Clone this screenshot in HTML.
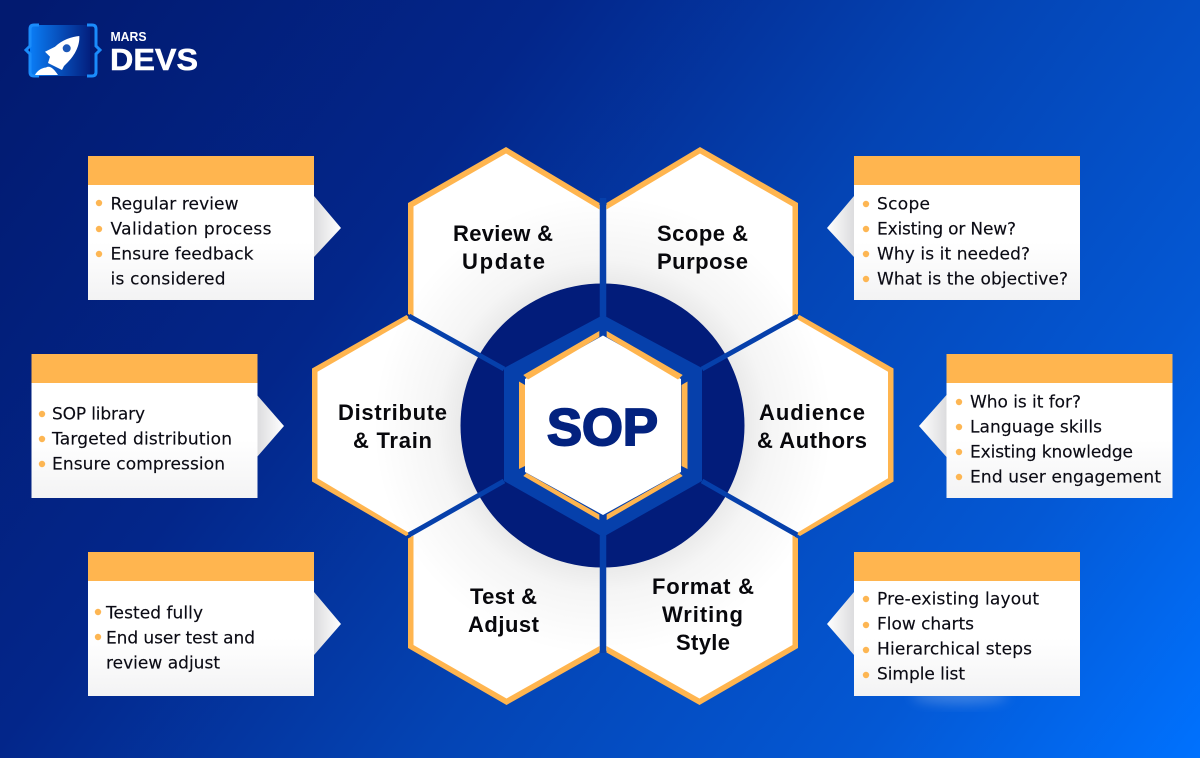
<!DOCTYPE html>
<html><head><meta charset="utf-8"><style>
html,body{margin:0;padding:0;width:1200px;height:758px;overflow:hidden;background:#0448b8}
svg{display:block}
.t{font-family:"DejaVu Sans","Liberation Sans",sans-serif;font-size:17px;fill:#0b0b14;stroke:#0b0b14;stroke-width:.15px}
.h{font-family:"Liberation Sans",sans-serif;font-weight:700;font-size:22px;fill:#08080c}
</style></head><body>
<svg width="1200" height="758" viewBox="0 0 1200 758" xmlns="http://www.w3.org/2000/svg">
<defs>
<linearGradient id="bg" gradientUnits="userSpaceOnUse" x1="60" y1="-40" x2="1180" y2="790">
<stop offset="0" stop-color="#021a70"/><stop offset=".3" stop-color="#03268a"/><stop offset=".55" stop-color="#0444b4"/><stop offset=".8" stop-color="#0458d4"/><stop offset="1" stop-color="#0072ff"/>
</linearGradient>
<linearGradient id="card" x1="0" y1="0" x2="0" y2="1"><stop offset=".6" stop-color="#fff"/><stop offset="1" stop-color="#f3f3f4"/></linearGradient>
<linearGradient id="ar" x1="0" y1="0" x2="1" y2="0"><stop offset="0" stop-color="#dcdcde"/><stop offset="1" stop-color="#fff"/></linearGradient>
<linearGradient id="al" x1="1" y1="0" x2="0" y2="0"><stop offset="0" stop-color="#dcdcde"/><stop offset="1" stop-color="#fff"/></linearGradient>
<linearGradient id="logo" x1="0" y1="0" x2="1" y2="0"><stop offset="0" stop-color="#0a7df6"/><stop offset="1" stop-color="#03207f"/></linearGradient>
<radialGradient id="sh" gradientUnits="userSpaceOnUse" cx="602.5" cy="425.5" r="230"><stop offset=".6" stop-color="#000" stop-opacity=".09"/><stop offset=".72" stop-color="#000" stop-opacity=".04"/><stop offset="1" stop-color="#000" stop-opacity="0"/></radialGradient>
<filter id="b" x="-50%" y="-50%" width="200%" height="200%"><feGaussianBlur stdDeviation="6"/></filter>
<clipPath id="hexes"><polygon points="603,207 700,150 795,205 795,316 700,371 603,316"/><polygon points="603,207 506,150 411,205 411,316 506,371 603,316"/><polygon points="315,370 407,318 503,369 503,482 407,533 315,480"/><polygon points="891,370 799,318 703,369 703,482 799,533 891,480"/><polygon points="411,536 506,480 603,536 603,649 506.5,702 411,646"/><polygon points="795,536 700,480 603,536 603,649 699.5,702 795,646"/></clipPath>
</defs>
<rect width="1200" height="758" fill="url(#bg)"/>

<!-- logo -->
<rect x="30" y="25" width="60" height="51" rx="4" fill="url(#logo)"/>
<path d="M39,25h-5q-4,0-4,4v17l-4,4 4,4v18q0,4,4,4h5" fill="none" stroke="#1a8cfb" stroke-width="3"/>
<path d="M87,25h5q4,0,4,4v17l4,4-4,4v18q0,4-4,4h-5" fill="none" stroke="#1a8cfb" stroke-width="3"/>
<path d="M79.300,36C72,36.500 62,40 55,46.700L45,51.700 50,56.700 48,63 62,70 64,66 68,62C75,55 80,45 79.300,36Z" fill="#fff"/>
<circle cx="66.700" cy="48.300" r="4" fill="#1b57b8"/>
<path d="M35,75C37,71 41,68 46,67.500C50,65 54,69 58,75Z" fill="#fff"/>
<text x="110.500" y="41" textLength="36" lengthAdjust="spacingAndGlyphs" style="font-family:'Liberation Sans',sans-serif;font-weight:700;font-size:13px;fill:#fff">MARS</text>
<text x="110" y="70" textLength="88" lengthAdjust="spacingAndGlyphs" style="font-family:'Liberation Sans',sans-serif;font-weight:700;font-size:31px;fill:#fff;stroke:#fff;stroke-width:.5px">DEVS</text>

<!-- glow -->
<ellipse cx="960" cy="696" rx="48" ry="8" fill="#8fb6ee" opacity=".4" filter="url(#b)"/>

<!-- cards -->
<polygon points="314,196 341,228 314,257" fill="url(#ar)"/>
<rect x="88" y="156" width="226" height="144" fill="url(#card)"/><rect x="88" y="156" width="226" height="29" fill="#ffb54f"/>
<polygon points="854,196 827,228 854,257" fill="url(#al)"/>
<rect x="854" y="156" width="226" height="144" fill="url(#card)"/><rect x="854" y="156" width="226" height="29" fill="#ffb54f"/>
<polygon points="257,395 284,426 257,457" fill="url(#ar)"/>
<rect x="31.500" y="354" width="226" height="144" fill="url(#card)"/><rect x="31.500" y="354" width="226" height="29" fill="#ffb54f"/>
<polygon points="946.500,395 919,426 946.500,457" fill="url(#al)"/>
<rect x="946.500" y="354" width="226" height="144" fill="url(#card)"/><rect x="946.500" y="354" width="226" height="29" fill="#ffb54f"/>
<polygon points="314,592 341,624 314,655" fill="url(#ar)"/>
<rect x="88" y="552" width="226" height="144" fill="url(#card)"/><rect x="88" y="552" width="226" height="29" fill="#ffb54f"/>
<polygon points="854,592 827,624 854,655" fill="url(#al)"/>
<rect x="854" y="552" width="226" height="144" fill="url(#card)"/><rect x="854" y="552" width="226" height="29" fill="#ffb54f"/>

<!-- bullets -->
<g fill="#fdb653">
<circle cx="99" cy="203" r="3.200"/><circle cx="99" cy="229" r="3.200"/><circle cx="99" cy="254" r="3.200"/>
<circle cx="866" cy="204" r="3.200"/><circle cx="866" cy="229" r="3.200"/><circle cx="866" cy="254" r="3.200"/><circle cx="866" cy="279" r="3.200"/>
<circle cx="42" cy="414" r="3.200"/><circle cx="42" cy="439" r="3.200"/><circle cx="42" cy="464" r="3.200"/>
<circle cx="959" cy="402" r="3.200"/><circle cx="959" cy="427" r="3.200"/><circle cx="959" cy="452" r="3.200"/><circle cx="959" cy="477" r="3.200"/>
<circle cx="98" cy="612" r="3.200"/><circle cx="98" cy="637" r="3.200"/>
<circle cx="866" cy="599" r="3.200"/><circle cx="866" cy="625" r="3.200"/><circle cx="866" cy="650" r="3.200"/><circle cx="866" cy="675" r="3.200"/>
</g>

<!-- card text -->
<text class="t" x="110.500" y="209.500" textLength="128">Regular review</text>
<text class="t" x="110.500" y="234.500" textLength="161">Validation process</text>
<text class="t" x="110.500" y="259.500" textLength="143">Ensure feedback</text>
<text class="t" x="110.500" y="284.500" textLength="115">is considered</text>
<text class="t" x="877" y="209.500" textLength="53">Scope</text>
<text class="t" x="877" y="234.500" textLength="139">Existing or New?</text>
<text class="t" x="877" y="259.500" textLength="153">Why is it needed?</text>
<text class="t" x="877" y="284.500" textLength="191">What is the objective?</text>
<text class="t" x="52" y="419.500" textLength="93">SOP library</text>
<text class="t" x="52" y="444.500" textLength="180">Targeted distribution</text>
<text class="t" x="52" y="469.500" textLength="173">Ensure compression</text>
<text class="t" x="970" y="407.500" textLength="111">Who is it for?</text>
<text class="t" x="970" y="432.500" textLength="132">Language skills</text>
<text class="t" x="970" y="457.500" textLength="163">Existing knowledge</text>
<text class="t" x="970" y="482.500" textLength="191">End user engagement</text>
<text class="t" x="106" y="618.500" textLength="97">Tested fully</text>
<text class="t" x="106" y="643.500" textLength="149">End user test and</text>
<text class="t" x="106" y="668.500" textLength="114">review adjust</text>
<text class="t" x="877" y="604.500" textLength="162">Pre-existing layout</text>
<text class="t" x="877" y="629.500" textLength="97">Flow charts</text>
<text class="t" x="877" y="654.500" textLength="155">Hierarchical steps</text>
<text class="t" x="877" y="679.500" textLength="88">Simple list</text>

<!-- hex fill -->
<g clip-path="url(#hexes)">
<rect width="1200" height="758" fill="#fff"/>
<circle cx="602.500" cy="425.500" r="230" fill="url(#sh)"/>
</g>

<!-- orange bands -->
<g fill="#ffb54f">
<polygon points="606.500,203 700,147 798,203 798,314 792.500,317 792.500,206.500 700,153.500 606.500,209.500"/>
<polygon points="599.500,203 506,147 408,203 408,314 413.500,317 413.500,206.500 506,153.500 599.500,209.500"/>
<polygon points="406.500,315 312,368.500 312,481.500 406,536 410,533.500 317.500,478.300 317.500,371.700 410,318.500"/>
<polygon points="799.500,315 893.500,368.500 893.500,481.500 800,536 796,533.500 888,478.300 888,371.700 796,318.500"/>
<polygon points="408,538.500 408,648 506.500,705 599.500,652.500 599.500,646 506.500,698.500 413.500,645 413.500,535.500"/>
<polygon points="798,538.500 798,648 699.500,705 606.500,652.500 606.500,646 699.500,698.500 792.500,645 792.500,535.500"/>
</g>

<!-- core -->
<circle cx="602.500" cy="425.500" r="142" fill="#021c7a"/>
<g stroke="#0640ab" fill="none">
<path d="M603,198V320M603,532V653" stroke-width="6.500"/>
<path d="M409,316L504,369M409,535L504,481M797,316L702,369M797,535L702,481" stroke-width="5"/>
</g>
<polygon points="603,315 702,368 702,481 603,537 504,481 504,368" fill="#0640ab"/>
<polygon points="603,335.500 681,379 681,472 603,515 525,472 525,379" fill="#fff"/>
<g fill="#ffb54f">
<polygon points="523.300,375 599.300,331 599.300,337 528,379.500"/>
<polygon points="606.700,331 682.700,375 678,379.500 606.700,337"/>
<polygon points="681.500,385 687.500,381.500 687.500,469 681.500,466"/>
<polygon points="519,381.500 525,385 525,466 519,469"/>
<polygon points="523.300,476 526.500,473 599.300,514.500 599.300,520"/>
<polygon points="606.700,514.500 679.500,473 682.700,476 606.700,520"/>
</g>
<text x="547" y="445" textLength="111" lengthAdjust="spacingAndGlyphs" style="font-family:'Liberation Sans',sans-serif;font-weight:700;font-size:52px;fill:#03227f;stroke:#03227f;stroke-width:2px">SOP</text>

<!-- hex titles -->
<text class="h" x="453" y="241" textLength="100">Review &amp;</text>
<text class="h" x="462" y="269" textLength="83">Update</text>
<text class="h" x="657" y="241" textLength="91">Scope &amp;</text>
<text class="h" x="657" y="269" textLength="91">Purpose</text>
<text class="h" x="338" y="420" textLength="109">Distribute</text>
<text class="h" x="353" y="448" textLength="79">&amp; Train</text>
<text class="h" x="759" y="420" textLength="106">Audience</text>
<text class="h" x="757" y="448" textLength="110">&amp; Authors</text>
<text class="h" x="470" y="604" textLength="67">Test &amp;</text>
<text class="h" x="468" y="632" textLength="71">Adjust</text>
<text class="h" x="652" y="594" textLength="102">Format &amp;</text>
<text class="h" x="662" y="622" textLength="81">Writing</text>
<text class="h" x="676" y="650" textLength="54">Style</text>
</svg>
</body></html>
